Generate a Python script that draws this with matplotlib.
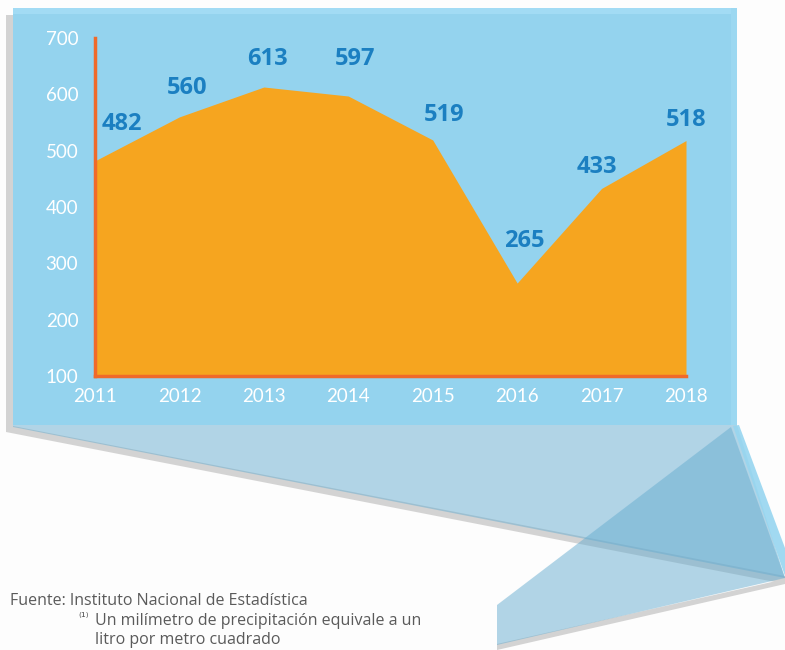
import matplotlib
matplotlib.use("Agg")
import matplotlib.pyplot as plt
from matplotlib.patches import Polygon, Rectangle

# ---- data ----
years = [2011, 2012, 2013, 2014, 2015, 2016, 2017, 2018]
values = [482, 560, 613, 597, 519, 265, 433, 518]
y_ticks = [100, 200, 300, 400, 500, 600, 700]
source_text = "Fuente: Instituto Nacional de Estadística"
note_mark = "⁽¹⁾"
note_line1 = "Un milímetro de precipitación equivale a un"
note_line2 = "litro por metro cuadrado"

# label offsets (pixels) relative to each point: layout only
label_dx = [27, 8, 4, 7, 11, 7, -5, 0]
label_dy = [37, 29, 28, 37, 25, 42, 21, 21]

W, H = 785, 650
fig = plt.figure(figsize=(W / 100, H / 100), dpi=100)
fig.patch.set_facecolor("#fdfdfd")

# ---- decorative background (pixel coords, y down) ----
bg = fig.add_axes([0, 0, 1, 1])
bg.set_xlim(0, W)
bg.set_ylim(H, 0)
bg.axis("off")

gray = "#d3d3d3"
bg.add_patch(Polygon([(6, 15), (13, 15), (13, 426), (785, 576), (785, 584), (6, 432)],
                     closed=True, fc=gray, ec="none", zorder=1))
bg.add_patch(Polygon([(497, 644), (785, 579), (785, 584), (497, 650)],
                     closed=True, fc=gray, ec="none", zorder=1))
proj = "#67add0"
bg.add_patch(Polygon([(13, 425), (737, 425), (785, 578), (13, 427)],
                     closed=True, fc=proj, alpha=0.5, ec="none", zorder=2))
bg.add_patch(Polygon([(731, 427), (785, 578), (497, 645), (497, 605)],
                     closed=True, fc=proj, alpha=0.5, ec="none", zorder=2))
bg.add_patch(Polygon([(733, 426), (739, 425), (785, 548), (785, 576)],
                     closed=True, fc="#97d6f0", alpha=0.9, ec="none", zorder=3))
bg.add_patch(Rectangle((13, 8), 724, 417, fc="#94d3ee", ec="none", zorder=4))
bg.add_patch(Rectangle((13, 8), 724, 6, fc="#a2dbf4", ec="none", zorder=4))
bg.add_patch(Rectangle((731, 8), 6, 417, fc="#9cd8f1", ec="none", zorder=4))

# footer text
txt_color = "#5a5a5a"
bg.text(10, 605, source_text, fontsize=11.5, family="Open Sans", color=txt_color,
        va="baseline", ha="left", zorder=5)
bg.text(78, 621, note_mark, fontsize=8.5, family="DejaVu Sans", color=txt_color,
        va="baseline", ha="left", zorder=5)
bg.text(95, 625, note_line1, fontsize=11.5, family="Open Sans", color=txt_color,
        va="baseline", ha="left", zorder=5)
bg.text(95, 644, note_line2, fontsize=11.5, family="Open Sans", color=txt_color,
        va="baseline", ha="left", zorder=5)

# ---- chart axes ----
left_px, right_px, top_px, bottom_px = 95, 686, 38, 376
ax = fig.add_axes([left_px / W, (H - bottom_px) / H,
                   (right_px - left_px) / W, (bottom_px - top_px) / H])
ax.set_facecolor("none")
ax.set_zorder(5)

ax.fill_between(years, values, y_ticks[0], color="#f6a51f", lw=0, zorder=2)
ax.set_xlim(years[0], years[-1])
ax.set_ylim(y_ticks[0], y_ticks[-1])

axis_color = "#f06a2a"
for s in ["top", "right"]:
    ax.spines[s].set_visible(False)
for s in ["left", "bottom"]:
    ax.spines[s].set_color(axis_color)
    ax.spines[s].set_linewidth(2.5)
    ax.spines[s].set_zorder(4)

ax.set_yticks(y_ticks)
ax.set_yticklabels([str(v) for v in y_ticks])
ax.set_xticks(years)
ax.set_xticklabels([str(y) for y in years])
ax.tick_params(axis="both", length=0, colors="white", labelsize=13.5)
ax.tick_params(axis="y", pad=12)
ax.tick_params(axis="x", pad=9)
for lab in ax.get_xticklabels() + ax.get_yticklabels():
    lab.set_family("Lato")
    lab.set_color("white")

label_color = "#1b7fc1"
for x, v, dx, dy in zip(years, values, label_dx, label_dy):
    ax.annotate(str(v), (x, v), xytext=(dx, dy), textcoords="offset pixels",
                ha="center", va="center", fontsize=17, fontweight="bold",
                family="Open Sans", color=label_color, zorder=6,
                annotation_clip=False)

fig.savefig("out.png", dpi=100, facecolor=fig.get_facecolor())
